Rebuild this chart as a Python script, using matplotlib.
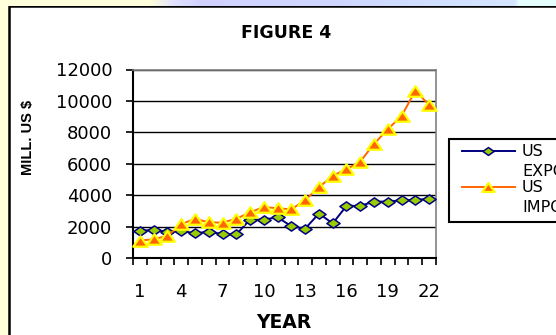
import numpy as np
import matplotlib
matplotlib.use("Agg")
import matplotlib.pyplot as plt
from matplotlib.patches import Rectangle
from matplotlib.lines import Line2D
from matplotlib.path import Path

# Trade series, millions of US dollars, by year index
years = list(range(1, 23))
exports = [1720, 1800, 1660, 1730, 1570, 1680, 1520, 1500, 2450, 2450, 2590,
           2020, 1870, 2830, 2200, 3320, 3320, 3590, 3590, 3670, 3690, 3780]
imports = [1100, 1200, 1410, 2150, 2500, 2270, 2250, 2500, 2900, 3250, 3160,
           3100, 3690, 4500, 5240, 5650, 6140, 7260, 8200, 9040, 10650, 9750]
year_labels = [1, 4, 7, 10, 13, 16, 19, 22]
series_names = ["US\nEXPORTS", "US\nIMPORTS"]

W, H = 556, 335


def fx(px):
    return px / W


def fy(py):
    return 1 - py / H


EXP_LINE = "#000080"
EXP_FACE = "#99CC00"
IMP_LINE = "#FF6600"
IMP_EDGE = "#FFFF00"
TICK_FONT = "DejaVu Sans"

# wide diamond / wide triangle markers
diamond = Path([(-1, 0), (0, 0.7), (1, 0), (0, -0.7), (-1, 0)],
               [Path.MOVETO, Path.LINETO, Path.LINETO, Path.LINETO, Path.CLOSEPOLY])
triangle = Path([(-1, -0.72), (0, 0.72), (1, -0.72), (-1, -0.72)],
                [Path.MOVETO, Path.LINETO, Path.LINETO, Path.CLOSEPOLY])

fig = plt.figure(figsize=(W / 100, H / 100), dpi=100)
fig.patch.set_facecolor("#FFFFDC")

# slide header strip
strip = fig.add_axes([0, fy(6), 1, 6 / H])
grad = np.array([
    [1.0, 1.0, 0.86], [1.0, 1.0, 0.86], [0.88, 0.88, 1.0], [0.82, 0.82, 1.0],
    [0.81, 0.84, 1.0], [0.82, 0.88, 1.0], [0.84, 0.90, 1.0], [0.90, 1.0, 1.0],
])
pos = np.array([0, 150, 175, 200, 330, 450, 515, 520]) / W
xs = np.linspace(0, 1, W)
row = np.stack([np.interp(xs, pos, grad[:, c]) for c in range(3)], axis=-1)
strip.imshow(row[None, :, :], aspect="auto", extent=[0, 1, 0, 1])
strip.axis("off")

# chart area box, kept behind the plot axes
fig.patches.append(Rectangle((fx(9), fy(340)), fx(560) - fx(9), fy(6) - fy(340),
                             transform=fig.transFigure, facecolor="white",
                             edgecolor="black", linewidth=1.8, zorder=-1))

ax = fig.add_axes([fx(133), fy(258), fx(436) - fx(133), fy(69.5) - fy(258)])
ax.set_facecolor("white")

ax.plot(years, exports, color=EXP_LINE, linewidth=1.4, marker=diamond,
        markersize=9.5, markerfacecolor=EXP_FACE, markeredgecolor=EXP_LINE,
        markeredgewidth=1.1, zorder=3)
ax.plot(years, imports, color=IMP_LINE, linewidth=1.4, marker=triangle,
        markersize=10.5, markerfacecolor=IMP_LINE, markeredgecolor=IMP_EDGE,
        markeredgewidth=1.6, zorder=4, clip_on=False)

ax.set_xlim(0.5, 22.5)
ax.set_ylim(0, 12000)
ax.set_yticks(range(0, 12001, 2000))
ax.yaxis.grid(True, color="black", linewidth=1)
ax.set_axisbelow(True)

# category boundaries carry the tick marks, labels sit at category centres
ax.set_xticks(np.arange(0.5, 23, 1))
ax.set_xticklabels([])
ax.set_xticks(year_labels, minor=True)
ax.set_xticklabels([str(v) for v in year_labels], minor=True,
                   fontfamily=TICK_FONT, fontsize=13)
ax.tick_params(axis="x", which="major", direction="out", length=5, width=1.2)
ax.tick_params(axis="x", which="minor", length=0, pad=18)
ax.tick_params(axis="y", direction="out", length=5, width=1.2, pad=10)
for lbl in ax.get_yticklabels():
    lbl.set_fontfamily(TICK_FONT)
    lbl.set_fontsize(13)

for side in ("left", "bottom"):
    ax.spines[side].set_color("black")
    ax.spines[side].set_linewidth(1.5)
for side in ("top", "right"):
    ax.spines[side].set_color("#808080")
    ax.spines[side].set_linewidth(1.2)

fig.text(fx(286), fy(32.5), "FIGURE 4", ha="center", va="center",
         fontfamily=TICK_FONT, fontweight="bold", fontsize=12.5)
fig.text(fx(284), fy(322), "YEAR", ha="center", va="center",
         fontfamily=TICK_FONT, fontweight="bold", fontsize=13.5)
fig.text(fx(28), fy(137), "MILL. US $", ha="center", va="center", rotation=90,
         fontfamily="Liberation Sans", fontweight="bold", fontsize=10.5)

# legend
fig.patches.append(Rectangle((fx(449), fy(222)), fx(570) - fx(449), fy(139) - fy(222),
                             transform=fig.transFigure, facecolor="white",
                             edgecolor="black", linewidth=1.5, zorder=5))
legend_rows = [
    (151, EXP_LINE, diamond, EXP_FACE, EXP_LINE, 1.1, 9.5),
    (187, IMP_LINE, triangle, IMP_LINE, IMP_EDGE, 1.6, 10.5),
]
for name, (py, lc, mk, mfc, mec, mew, ms) in zip(series_names, legend_rows):
    fig.lines.append(Line2D([fx(462), fx(488), fx(515)], [fy(py)] * 3,
                            transform=fig.transFigure, color=lc, linewidth=1.4,
                            marker=mk, markevery=[1], markersize=ms * 0.85,
                            markerfacecolor=mfc, markeredgecolor=mec,
                            markeredgewidth=mew, zorder=6))
    top, bottom = name.split("\n")
    fig.text(fx(522), fy(py), top, ha="left", va="center",
             fontfamily=TICK_FONT, fontsize=11.5, zorder=6)
    fig.text(fx(522), fy(py + 21), bottom, ha="left", va="center",
             fontfamily=TICK_FONT, fontsize=11.5, zorder=6)

plt.savefig("out.png", dpi=100, facecolor=fig.get_facecolor())
plt.close()
